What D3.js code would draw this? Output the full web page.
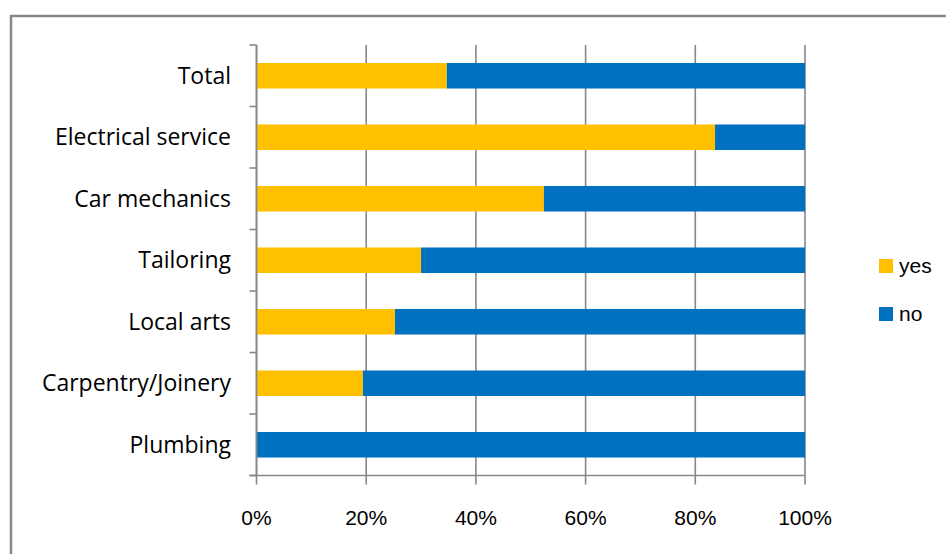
<!DOCTYPE html>
<html>
<head>
<meta charset="utf-8">
<script src="https://cdn.jsdelivr.net/npm/d3@7"></script>
<style>
  body { margin: 0; background: #fff; }
  svg { display: block; }
  text { font-family: "Liberation Sans", Arial, sans-serif; fill: #000; }
  .cat { font-family: "Open Sans", "Liberation Sans", sans-serif; }
</style>
</head>
<body>
<svg id="chart" width="946" height="554"></svg>
<script>
// categories top to bottom
var categories = ['Total', 'Electrical service', 'Car mechanics', 'Tailoring', 'Local arts', 'Carpentry/Joinery', 'Plumbing'];
// share answering "yes" (rest is "no")
var yesShare = [0.347, 0.836, 0.524, 0.300, 0.2525, 0.194, 0.0];
var noShare = [0.653, 0.164, 0.476, 0.700, 0.7475, 0.806, 1.0];
var seriesNames = ['yes', 'no'];
var seriesColors = ['#FFC000', '#0070C0'];
var xTicks = [0, 0.2, 0.4, 0.6, 0.8, 1.0];

var svg = d3.select('#chart');
var plotLeft = 256.5, plotRight = 805, plotTop = 45, plotBottom = 475.5;

// outer frame, runs off the picture on the right and bottom
svg.append('rect')
  .attr('x', 11).attr('y', 16)
  .attr('width', 1000).attr('height', 700)
  .attr('fill', 'none').attr('stroke', '#878787').attr('stroke-width', 2.5);

var x = d3.scaleLinear().domain([0, 1]).range([plotLeft, plotRight]);
var y = d3.scaleBand().domain(categories).range([plotTop, plotBottom])
  .paddingInner(0.585).paddingOuter(0.2925);

var rows = categories.map(function(c, i) {
  return { cat: c, yes: yesShare[i], no: noShare[i] };
});
var stacked = d3.stack().keys(seriesNames)(rows);

// gridlines (also tick marks below the axis)
svg.append('g').selectAll('line')
  .data(xTicks)
  .enter().append('line')
  .attr('x1', function(d) { return x(d); })
  .attr('x2', function(d) { return x(d); })
  .attr('y1', plotTop).attr('y2', plotBottom + 9)
  .attr('stroke', '#878787').attr('stroke-width', 1.6);

// bars
svg.append('g').selectAll('g')
  .data(stacked)
  .enter().append('g')
  .attr('fill', function(d, i) { return seriesColors[i]; })
  .selectAll('rect')
  .data(function(d) { return d; })
  .enter().append('rect')
  .attr('x', function(d) { return x(d[0]); })
  .attr('width', function(d) { return x(d[1]) - x(d[0]); })
  .attr('y', function(d) { return y(d.data.cat); })
  .attr('height', y.bandwidth());

// y axis line and category ticks
svg.append('line')
  .attr('x1', plotLeft).attr('x2', plotLeft).attr('y1', plotTop).attr('y2', plotBottom)
  .attr('stroke', '#878787').attr('stroke-width', 1.6);
var step = y.step();
var bounds = d3.range(categories.length + 1).map(function(i) { return plotTop + i * step; });
svg.append('g').selectAll('line')
  .data(bounds)
  .enter().append('line')
  .attr('x1', plotLeft - 7).attr('x2', plotLeft)
  .attr('y1', function(d) { return d; }).attr('y2', function(d) { return d; })
  .attr('stroke', '#878787').attr('stroke-width', 1.6);
// x axis line
svg.append('line')
  .attr('x1', plotLeft - 7).attr('x2', plotRight).attr('y1', plotBottom).attr('y2', plotBottom)
  .attr('stroke', '#878787').attr('stroke-width', 1.6);

// category labels
svg.append('g').selectAll('text')
  .data(categories)
  .enter().append('text')
  .attr('class', 'cat')
  .attr('x', 231)
  .attr('y', function(d) { return y(d) + y.bandwidth() / 2; })
  .attr('dy', '0.35em')
  .attr('text-anchor', 'end')
  .style('font-size', '23px')
  .text(function(d) { return d; });

// x tick labels
var fmt = d3.format('.0%');
svg.append('g').selectAll('text')
  .data(xTicks)
  .enter().append('text')
  .attr('x', function(d) { return x(d); })
  .attr('y', 525)
  .attr('text-anchor', 'middle')
  .style('font-size', '21px')
  .text(function(d) { return fmt(d); });

// legend
var legend = svg.append('g').selectAll('g')
  .data(seriesNames)
  .enter().append('g')
  .attr('transform', function(d, i) { return 'translate(879,' + (259 + i * 48) + ')'; });
legend.append('rect')
  .attr('width', 14).attr('height', 14)
  .attr('fill', function(d, i) { return seriesColors[i]; });
legend.append('text')
  .attr('x', 20).attr('y', 14)
  .style('font-size', '21px')
  .text(function(d) { return d; });
</script>
</body>
</html>
